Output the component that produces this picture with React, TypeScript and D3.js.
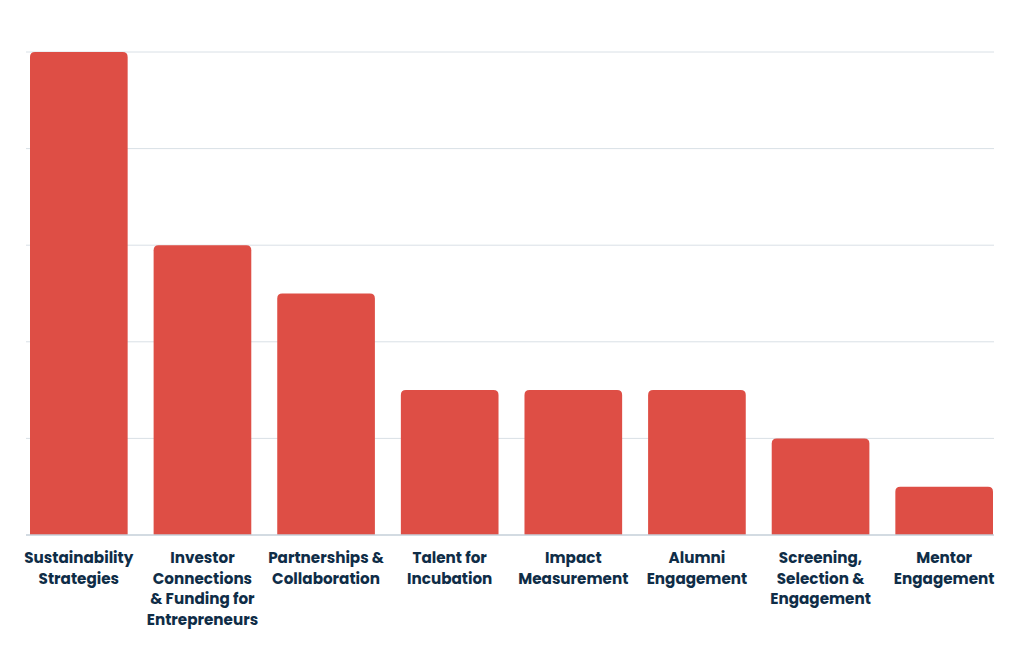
import { useEffect, useRef } from "react";
import * as d3 from "d3";

const categories = [
	"Sustainability Strategies",
	"Investor Connections & Funding for Entrepreneurs",
	"Partnerships & Collaboration",
	"Talent for Incubation",
	"Impact Measurement",
	"Alumni Engagement",
	"Screening, Selection & Engagement",
	"Mentor Engagement",
];

// label lines as they wrap in the picture
const labelLines = [
	["Sustainability", "Strategies"],
	["Investor", "Connections", "& Funding for", "Entrepreneurs"],
	["Partnerships &", "Collaboration"],
	["Talent for", "Incubation"],
	["Impact", "Measurement"],
	["Alumni", "Engagement"],
	["Screening,", "Selection &", "Engagement"],
	["Mentor", "Engagement"],
];

const values = [10, 6, 5, 3, 3, 3, 2, 1];

const yTicks = [0, 2, 4, 6, 8, 10];

const App = () => {
	const svgRef = useRef<SVGSVGElement>(null);

	useEffect(() => {
		if (!svgRef.current) return;

		const width = 1024;
		const height = 651;
		const margin = { top: 52, left: 30, right: 31, bottom: 116 };

		const svg = d3
			.select(svgRef.current)
			.attr("width", width)
			.attr("height", height);

		svg.selectAll("*").remove();

		const x = d3
			.scaleBand()
			.domain(categories)
			.range([margin.left, width - margin.right])
			.paddingInner(0.21)
			.paddingOuter(0);

		const y = d3
			.scaleLinear()
			.domain([0, 10])
			.range([height - margin.bottom, margin.top]);

		// Grid lines
		svg
			.append("g")
			.selectAll("line")
			.data(yTicks.filter((d) => d > 0))
			.join("line")
			.attr("x1", margin.left - 4)
			.attr("x2", width - margin.right + 1)
			.attr("y1", (d) => y(d))
			.attr("y2", (d) => y(d))
			.attr("stroke", "#d9e0e6")
			.attr("stroke-width", 1);

		// Bars with rounded tops
		const r = 5;
		svg
			.append("g")
			.selectAll("path")
			.data(values)
			.join("path")
			.attr("fill", "#de4e45")
			.attr("d", (d, i) => {
				const x0 = x(categories[i])!;
				const x1 = x0 + x.bandwidth();
				const y0 = y(0);
				const y1 = y(d);
				return `M${x0},${y0}V${y1 + r}Q${x0},${y1} ${x0 + r},${y1}H${x1 - r}Q${x1},${y1} ${x1},${y1 + r}V${y0}Z`;
			});

		// Baseline
		svg
			.append("line")
			.attr("x1", margin.left - 4)
			.attr("x2", width - margin.right + 1)
			.attr("y1", y(0))
			.attr("y2", y(0))
			.attr("stroke", "#c5cfd8")
			.attr("stroke-width", 1.5);

		// Category labels
		const labels = svg
			.append("g")
			.selectAll("text")
			.data(categories)
			.join("text")
			.attr("x", (d) => x(d)! + x.bandwidth() / 2)
			.attr("y", y(0) + 28)
			.attr("text-anchor", "middle")
			.attr("fill", "#0f2d47")
			.style("font-family", "Poppins, 'Open Sans', sans-serif")
			.style("font-weight", "700")
			.style("font-size", "15.2px");

		labels
			.selectAll("tspan")
			.data((d, i) => labelLines[i])
			.join("tspan")
			.attr("x", function () {
				return (this.parentNode as SVGTextElement).getAttribute("x");
			})
			.attr("dy", (d, i) => (i === 0 ? 0 : 20.7))
			.text((d) => d);
	}, []);

	return (
		<div style={{ margin: -8, background: "#fff" }}>
			<svg ref={svgRef} style={{ display: "block" }} />
		</div>
	);
};

export default App;
